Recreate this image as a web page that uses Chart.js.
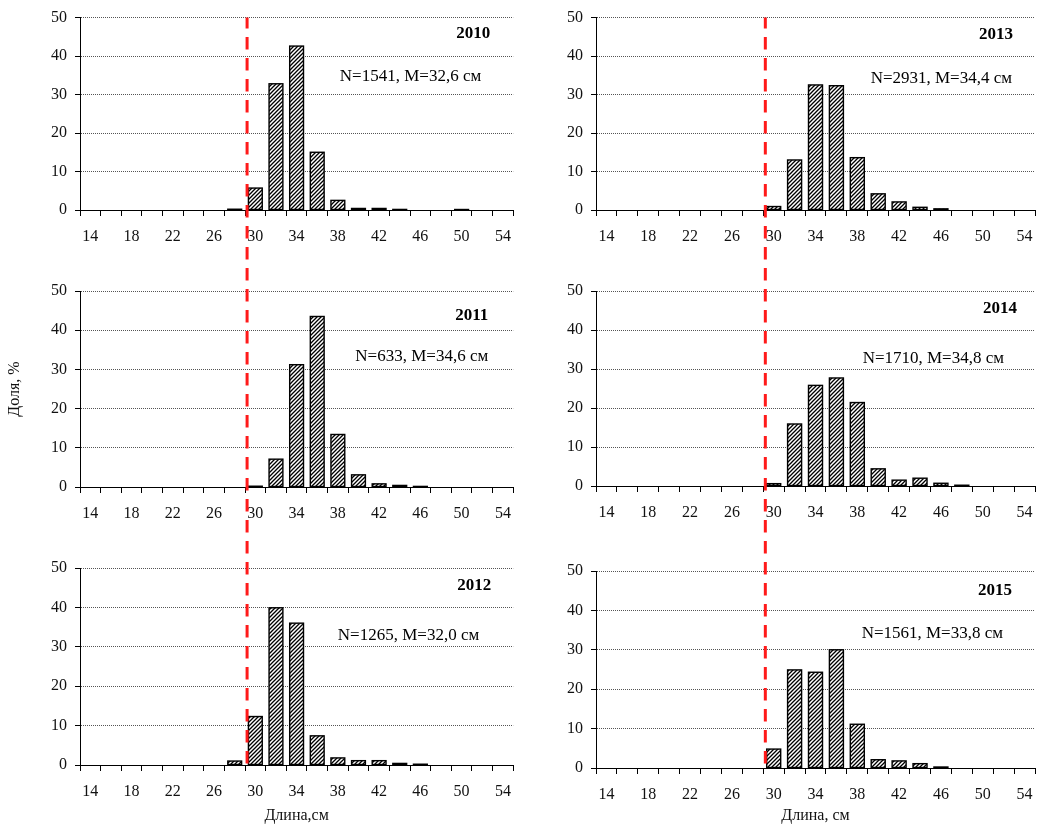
<!DOCTYPE html>
<html>
<head>
<meta charset="utf-8">
<script src="https://cdn.jsdelivr.net/npm/chart.js@4.4.1/dist/chart.umd.min.js"></script>
<style>
    body { margin: 0; background: #fff; width: 1049px; height: 826px; position: relative; overflow: hidden; }
    canvas { position: absolute; }
</style>
</head>
<body>
<canvas id="c2010"></canvas>
<canvas id="c2011"></canvas>
<canvas id="c2012"></canvas>
<canvas id="c2013"></canvas>
<canvas id="c2014"></canvas>
<canvas id="c2015"></canvas>
<script>
// классы длины, см
const lengths = ['14','16','18','20','22','24','26','28','30','32','34','36','38','40','42','44','46','48','50','52','54'];
const tickLabels = ['14','18','22','26','30','34','38','42','46','50','54'];
const yTicks = [0, 10, 20, 30, 40, 50];

// доля, %
const share2010 = [0,0,0,0,0,0,0,0.2,5.7,32.8,42.6,15.0,2.5,0.4,0.4,0.15,0,0,0.1,0,0];
const share2011 = [0,0,0,0,0,0,0,0,0.2,7.1,31.2,43.5,13.4,3.1,0.8,0.4,0.15,0,0,0,0];
const share2012 = [0,0,0,0,0,0,0,1.0,12.3,39.9,36.0,7.4,1.8,1.1,1.1,0.4,0.2,0,0,0,0];
const share2013 = [0,0,0,0,0,0,0,0,0.9,13.0,32.5,32.3,13.6,4.2,2.1,0.7,0.3,0,0,0,0];
const share2014 = [0,0,0,0,0,0,0,0,0.6,15.9,25.8,27.7,21.4,4.4,1.5,2.0,0.7,0.2,0,0,0];
const share2015 = [0,0,0,0,0,0,0,0,4.8,24.9,24.3,30.0,11.1,2.1,1.8,1.1,0.25,0,0,0,0];

const years = ['2010', '2011', '2012', '2013', '2014', '2015'];
const counts = [1541, 633, 1265, 2931, 1710, 1561];
const means = ['32,6', '34,6', '32,0', '34,4', '34,8', '33,8'];
const cutoffLength = 29.2; // красная линия

const FONT = "'Liberation Serif', 'Times New Roman', serif";

// штриховка столбцов
function hatch() {
    const c = document.createElement('canvas');
    c.width = 4; c.height = 4;
    const g = c.getContext('2d');
    g.fillStyle = '#fff';
    g.fillRect(0, 0, 4, 4);
    g.strokeStyle = '#000';
    g.lineWidth = 1.3;
    g.beginPath();
    g.moveTo(-1, 5); g.lineTo(5, -1);
    g.moveTo(-1, 1); g.lineTo(1, -1);
    g.moveTo(3, 5); g.lineTo(5, 3);
    g.stroke();
    return g.createPattern(c, 'repeat');
}

const panels = [
    {id: 'c2010', data: share2010, left: 0,   top: 0,   w: 522, h: 262, padTop: 16, padRight: 5,  yW: 80, xH: 52, line: 'top', yearAt: [23, 16], noteAt: [32, 59]},
    {id: 'c2011', data: share2011, left: 0,   top: 262, w: 522, h: 277, padTop: 29, padRight: 5,  yW: 80, xH: 52, line: 'mid', yearAt: [25, 25], noteAt: [25, 66], yTitle: 'Доля, %'},
    {id: 'c2012', data: share2012, left: 0,   top: 539, w: 522, h: 287, padTop: 29, padRight: 5,  yW: 80, xH: 61, line: 'end', yearAt: [22, 18], noteAt: [34, 68], xTitle: 'Длина,см'},
    {id: 'c2013', data: share2013, left: 524, top: 0,   w: 525, h: 262, padTop: 15, padRight: 14, yW: 72, xH: 52, line: 'top', yearAt: [22, 17], noteAt: [23, 61]},
    {id: 'c2014', data: share2014, left: 524, top: 262, w: 525, h: 277, padTop: 29, padRight: 14, yW: 72, xH: 53, line: 'mid', yearAt: [18, 18], noteAt: [31, 68]},
    {id: 'c2015', data: share2015, left: 524, top: 539, w: 525, h: 287, padTop: 32, padRight: 14, yW: 72, xH: 58, line: 'end', yearAt: [23, 20], noteAt: [32, 63], xTitle: 'Длина, см'}
];

const dash = [12.5, 8.5];
const lineStartY = 16;

const charts = panels.map((p, i) => {
    const cv = document.getElementById(p.id);
    cv.width = p.w; cv.height = p.h;
    cv.style.left = p.left + 'px';
    cv.style.top = p.top + 'px';

    // контур столбцов, видимый и у самых малых значений
    const outline = {
        id: 'outline',
        afterDatasetsDraw(chart) {
            const ctx = chart.ctx;
            ctx.save();
            ctx.strokeStyle = '#000';
            ctx.lineWidth = 1.4;
            chart.getDatasetMeta(0).data.forEach((bar, k) => {
                if (!(p.data[k] > 0)) return;
                const {x, y, base, width} = bar.getProps(['x', 'y', 'base', 'width'], true);
                ctx.strokeRect(x - width / 2, y, width, base - y);
            });
            ctx.restore();
        }
    };

    const notes = {
        id: 'notes',
        afterDraw(chart) {
            const ctx = chart.ctx;
            const a = chart.chartArea;
            ctx.save();
            ctx.fillStyle = '#000';
            ctx.textAlign = 'right';
            ctx.textBaseline = 'middle';
            ctx.font = 'bold 17px ' + FONT;
            ctx.fillText(years[i], a.right - p.yearAt[0], a.top + p.yearAt[1]);
            ctx.font = '17px ' + FONT;
            ctx.fillText('N=' + counts[i] + ', M=' + means[i] + ' см', a.right - p.noteAt[0], a.top + p.noteAt[1]);

            // красная пунктирная линия
            const x = chart.scales.x.getPixelForValue((cutoffLength - 14) / 2);
            let y0 = 0, y1 = chart.height;
            if (p.line === 'top') y0 = a.top;
            if (p.line === 'end') y1 = a.bottom;
            ctx.strokeStyle = '#ff1a1a';
            ctx.lineWidth = 3;
            ctx.setLineDash(dash);
            ctx.lineDashOffset = p.top + y0 - lineStartY;
            ctx.beginPath();
            ctx.moveTo(x, y0);
            ctx.lineTo(x, y1);
            ctx.stroke();
            ctx.restore();
        }
    };

    return new Chart(cv.getContext('2d'), {
        type: 'bar',
        data: {
            labels: lengths,
            datasets: [{
                data: p.data,
                backgroundColor: hatch(),
                borderWidth: 0,
                categoryPercentage: 1,
                barPercentage: 0.67
            }]
        },
        options: {
            responsive: false,
            animation: false,
            events: [],
            layout: {padding: {top: p.padTop, right: p.padRight, left: 0, bottom: 0}},
            plugins: {legend: {display: false}, tooltip: {enabled: false}},
            scales: {
                x: {
                    grid: {display: true, drawOnChartArea: false, offset: true, tickLength: 6, tickColor: '#000', tickWidth: 1},
                    border: {color: '#000', width: 1},
                    ticks: {
                        autoSkip: false, maxRotation: 0, padding: 11, color: '#111',
                        font: {family: FONT, size: 16},
                        callback: (v, k) => tickLabels.includes(lengths[k]) ? lengths[k] : ''
                    },
                    title: {display: !!p.xTitle, text: p.xTitle || '', color: '#111', font: {family: FONT, size: 16}, padding: {top: 0, bottom: 1}},
                    afterFit: s => { s.height = p.xH; }
                },
                y: {
                    min: 0, max: 50,
                    afterBuildTicks: s => { s.ticks = yTicks.map(v => ({value: v})); },
                    grid: {
                        color: c => c.tick && c.tick.value === 0 ? 'rgba(0,0,0,0)' : '#555',
                        lineWidth: 1, tickLength: 5, tickColor: '#000', tickWidth: 1
                    },
                    border: {color: '#000', width: 1, dash: [1, 1]},
                    ticks: {padding: 8, color: '#111', font: {family: FONT, size: 16}},
                    title: {display: !!p.yTitle, text: p.yTitle || '', color: '#111', font: {family: FONT, size: 16}, padding: {top: 5, bottom: 0}},
                    afterFit: s => { s.width = p.yW; }
                }
            }
        },
        plugins: [outline, notes]
    });
});
</script>
</body>
</html>
